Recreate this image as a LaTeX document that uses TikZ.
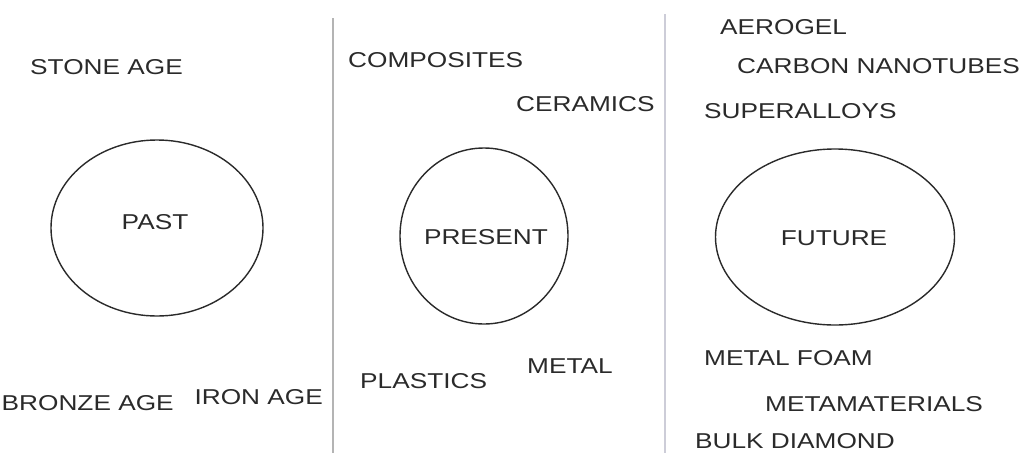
\documentclass[tikz,border=0pt]{standalone}
\usepackage{fontspec}
\setmainfont{Liberation Sans}
\usepackage{graphicx}
\definecolor{ink}{HTML}{2A2A2A}
\definecolor{divA}{HTML}{B4B4B4}
\definecolor{divB}{HTML}{CDCDD8}
\newcommand{\wide}[1]{\scalebox{1.22}[1]{#1}}
\tikzset{
  lbl/.style={font=\fontsize{21.5}{24}\selectfont, text=ink, inner sep=0pt, anchor=west},
  era/.style={draw=ink, line width=1.4pt, ellipse},
  divider/.style={line width=1.8pt}
}
\usetikzlibrary{shapes.geometric}
\begin{document}
\begin{tikzpicture}[x=1pt,y=-1pt]
\useasboundingbox (0,0) rectangle (1022,453);
% dividers
\coordinate (d1t) at (333,18);
\coordinate (d1b) at (333,453);
\coordinate (d2t) at (665,14);
\coordinate (d2b) at (665,453);
\draw[divider, divA] (d1t) -- (d1b);
\draw[divider, divB] (d2t) -- (d2b);
% ellipses
\node[era, minimum width=212pt, minimum height=176pt] (past) at (157,228) {};
\node[era, minimum width=168pt, minimum height=176pt] (present) at (484,236) {};
\node[era, minimum width=239pt, minimum height=176pt] (future) at (835,237) {};
\node[lbl, anchor=center] (pastl) at (155,222) {\wide{PAST}};
\node[lbl, anchor=center] (presentl) at (486,237) {\wide{PRESENT}};
\node[lbl, anchor=center] (futurel) at (834,238) {\wide{FUTURE}};
% past
\node[lbl] (stone) at (30,67) {\wide{STONE AGE}};
\node[lbl] (bronze) at (1.5,403) {\wide{BRONZE AGE}};
\node[lbl, anchor=east] (iron) at (323,397) {\wide{IRON AGE}};
% present
\node[lbl] (comp) at (348,60) {\wide{COMPOSITES}};
\node[lbl] (cer) at (516,104) {\wide{CERAMICS}};
\node[lbl] (plast) at (360,381) {\wide{PLASTICS}};
\node[lbl] (metal) at (527,366) {\wide{METAL}};
% future
\node[lbl] (aero) at (720,27) {\wide{AEROGEL}};
\node[lbl] (cnt) at (737,66) {\wide{CARBON NANOTUBES}};
\node[lbl] (super) at (704,111) {\wide{SUPERALLOYS}};
\node[lbl] (foam) at (704,358) {\wide{METAL FOAM}};
\node[lbl] (meta) at (765,404) {\wide{METAMATERIALS}};
\node[lbl] (diam) at (695,441) {\wide{BULK DIAMOND}};
\end{tikzpicture}
\end{document}
